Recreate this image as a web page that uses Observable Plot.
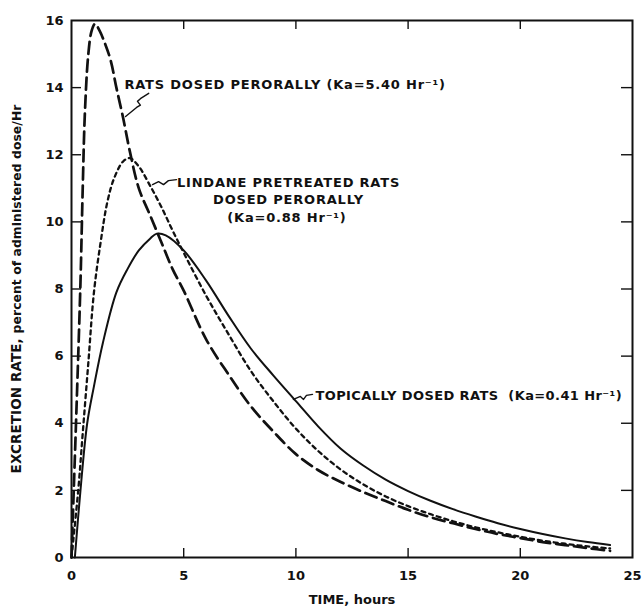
<!DOCTYPE html>
<html><head><meta charset="utf-8">
<script src="https://cdn.jsdelivr.net/npm/d3@7"></script>
<script src="https://cdn.jsdelivr.net/npm/@observablehq/plot@0.6"></script>
<style>
body{margin:0;background:#fff}
#chart svg{font-family:"DejaVu Sans","Liberation Sans",Arial,sans-serif}
</style>
</head><body><div id="chart"></div>
<script>
// ---- data ----
const xTicks = [0, 5, 10, 15, 20, 25];
const yTicks = [0, 2, 4, 6, 8, 10, 12, 14, 16];
const xLabel = "TIME, hours";
const yLabelBold = "EXCRETION RATE, ";
const yLabelRest = "percent of administered dose/Hr";

// Rats dosed perorally (Ka = 5.40 /hr) – long dashes
const oralTime = [0, 0.1, 0.25, 0.4, 0.5, 0.6, 0.75, 0.9, 1.05, 1.25, 1.5, 1.75, 2.0, 2.3, 2.6, 3.0, 3.5, 4, 4.5, 5, 6, 7, 8, 9, 10, 11, 12, 13, 14, 15, 16, 17, 18, 19, 20, 21, 22, 23, 24];
const oralRate = [0, 2, 5, 8.2, 11, 13.3, 15.0, 15.7, 15.9, 15.7, 15.3, 14.8, 14.0, 13.1, 12.1, 11.0, 10.2, 9.4, 8.6, 7.95, 6.5, 5.45, 4.5, 3.75, 3.08, 2.6, 2.25, 1.95, 1.68, 1.42, 1.2, 1.02, 0.85, 0.7, 0.58, 0.46, 0.37, 0.28, 0.2];

// Lindane pretreated rats dosed perorally (Ka = 0.88 /hr) – short dashes
const lindaneTime = [0, 0.3, 0.5, 0.75, 1.0, 1.3, 1.6, 1.9, 2.3, 2.6, 3.0, 3.5, 4.0, 4.5, 5, 6, 7, 8, 9, 10, 11, 12, 13, 14, 15, 16, 17, 18, 19, 20, 21, 22, 23, 24];
const lindaneRate = [0, 2, 3.7, 5.8, 7.9, 9.4, 10.6, 11.3, 11.8, 11.9, 11.65, 11.08, 10.45, 9.75, 9.08, 7.8, 6.65, 5.55, 4.65, 3.84, 3.17, 2.62, 2.18, 1.82, 1.53, 1.29, 1.08, 0.9, 0.75, 0.62, 0.5, 0.41, 0.33, 0.27];

// Topically dosed rats (Ka = 0.41 /hr) – solid
const topicalTime = [0.15, 0.4, 0.7, 1.0, 1.4, 2.0, 2.5, 3.0, 3.5, 3.8, 4.2, 5, 6, 7, 8, 9, 10, 11, 12, 13, 14, 15, 16, 17, 18, 19, 20, 21, 22, 23, 24];
const topicalRate = [0, 2, 4, 5.1, 6.4, 7.9, 8.6, 9.15, 9.5, 9.65, 9.6, 9.15, 8.25, 7.2, 6.22, 5.42, 4.66, 3.9, 3.24, 2.74, 2.32, 1.98, 1.69, 1.44, 1.22, 1.02, 0.85, 0.7, 0.57, 0.46, 0.37];

// annotation texts and anchor points (data units)
const oralText = "RATS DOSED PERORALLY (Ka=5.40 Hr⁻¹)";
const oralTextPos = [2.36, 14.09];
const topicalText = "TOPICALLY DOSED RATS  (Ka=0.41 Hr⁻¹)";
const topicalTextPos = [10.87, 4.83];
const midTexts = ["LINDANE PRETREATED RATS", "DOSED PERORALLY", "(Ka=0.88 Hr⁻¹)"];
const midX = [9.67, 9.67, 9.6];
const midY = [11.17, 10.67, 10.13];

const leaderOralX = [3.44, 3.07, 2.94, 3.07, 2.90, 2.41];
const leaderOralY = [13.83, 13.67, 13.59, 13.48, 13.41, 13.14];
const leaderLindX = [4.68, 4.32, 4.10, 3.88, 3.61];
const leaderLindY = [11.26, 11.23, 11.11, 11.20, 11.11];
const leaderTopX = [10.74, 10.47, 10.34, 10.2, 9.89];
const leaderTopY = [4.86, 4.83, 4.71, 4.80, 4.71];

// ---- build tables ----
const zip = (xs, ys) => xs.map((x, i) => ({x, y: ys[i]}));
const oral = zip(oralTime, oralRate);
const lindane = zip(lindaneTime, lindaneRate);
const topical = zip(topicalTime, topicalRate);
const oralLabel = [{t: oralText, x: oralTextPos[0], y: oralTextPos[1]}];
const topicalLabel = [{t: topicalText, x: topicalTextPos[0], y: topicalTextPos[1]}];
const midLabels = midTexts.map((t, i) => ({t, x: midX[i], y: midY[i]}));
const leaders = [zip(leaderOralX, leaderOralY), zip(leaderLindX, leaderLindY), zip(leaderTopX, leaderTopY)];

const W = 643, H = 611, mL = 71, mR = 11, mT = 20, mB = 54;
const fw = W - mL - mR, fh = H - mT - mB;
const xInner = xTicks.slice(1, -1), yInner = yTicks.slice(1, -1);
const ink = "#111";

const plot = Plot.plot({
  width: W, height: H,
  marginLeft: mL, marginRight: mR, marginTop: mT, marginBottom: mB,
  x: {domain: [0, 25]},
  y: {domain: [0, 16]},
  style: {fontSize: "13px", fontWeight: "bold", color: ink, background: "#fff"},
  marks: [
    Plot.axisX({ticks: xTicks, tickSize: 0, tickPadding: 13, tickFormat: d => d, label: xLabel, labelAnchor: "center", labelOffset: 46, labelArrow: "none"}),
    Plot.axisY({ticks: yTicks, tickSize: 0, tickPadding: 8, tickFormat: d => d, label: yLabelBold + yLabelRest, labelAnchor: "center", labelOffset: 60, labelArrow: "none"}),
    // inward ticks on all four sides
    Plot.tickX(xInner, {x: d => d, insetTop: fh - 9, stroke: ink, strokeWidth: 1.4}),
    Plot.tickX(xInner, {x: d => d, insetBottom: fh - 9, stroke: ink, strokeWidth: 1.4}),
    Plot.tickY(yInner, {y: d => d, insetRight: fw - 10, stroke: ink, strokeWidth: 1.4}),
    Plot.tickY(yInner, {y: d => d, insetLeft: fw - 11, stroke: ink, strokeWidth: 1.4}),
    Plot.frame({stroke: ink, strokeWidth: 2}),
    // curves
    Plot.line(topical, {x: "x", y: "y", curve: "catmull-rom", stroke: ink, strokeWidth: 2}),
    Plot.line(lindane, {x: "x", y: "y", curve: "catmull-rom", stroke: ink, strokeWidth: 2.3, strokeDasharray: "4,4"}),
    Plot.line(oral, {x: "x", y: "y", curve: "catmull-rom", stroke: ink, strokeWidth: 2.7, strokeDasharray: "12,6"}),
    // leaders
    ...leaders.map(L => Plot.line(L, {x: "x", y: "y", stroke: ink, strokeWidth: 1.4})),
    // labels
    Plot.text(oralLabel, {x: "x", y: "y", text: "t", textAnchor: "start", fontSize: 13, fontWeight: "bold", fill: ink, className: "ls8"}),
    Plot.text(topicalLabel, {x: "x", y: "y", text: "t", textAnchor: "start", fontSize: 13, fontWeight: "bold", fill: ink, className: "ls5"}),
    Plot.text(midLabels, {x: "x", y: "y", text: "t", textAnchor: "middle", fontSize: 13, fontWeight: "bold", fill: ink, className: "ls8"})
  ]
});
document.getElementById("chart").appendChild(plot);

// letter spacing for annotation texts
plot.querySelectorAll('.ls8 text').forEach(t => t.setAttribute("letter-spacing", "0.8"));
plot.querySelectorAll('.ls5 text').forEach(t => t.setAttribute("letter-spacing", "0.4"));

// split the y-axis label into a bold upper-case part and a smaller part
const yl = plot.querySelector('g[aria-label="y-axis label"] text');
if (yl) {
  yl.textContent = "";
  yl.setAttribute("letter-spacing", "0.1");
  const ns = "http://www.w3.org/2000/svg";
  const a = document.createElementNS(ns, "tspan"); a.textContent = yLabelBold; a.setAttribute("font-size", "13.5");
  const b = document.createElementNS(ns, "tspan"); b.textContent = yLabelRest; b.setAttribute("font-size", "12.3");
  yl.appendChild(a); yl.appendChild(b);
}
</script>
</body></html>
